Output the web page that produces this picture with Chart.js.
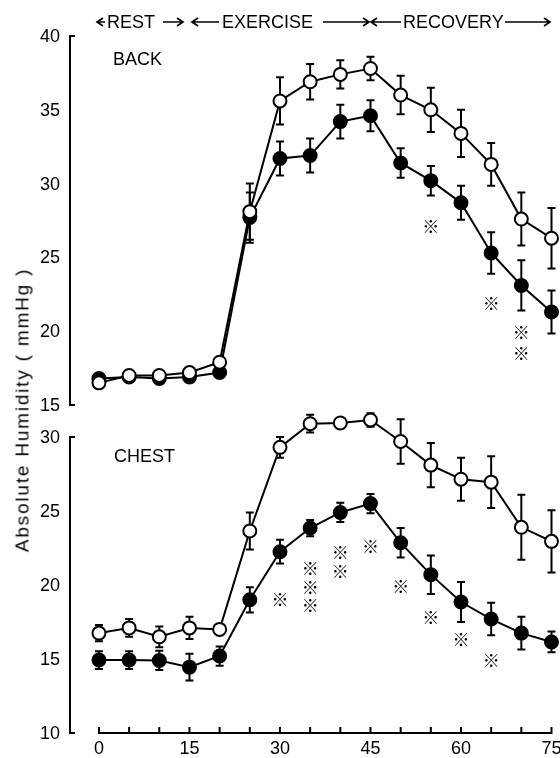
<!DOCTYPE html>
<html>
<head>
<meta charset="utf-8">
<script src="https://cdn.jsdelivr.net/npm/chart.js@4.4.1/dist/chart.umd.min.js"></script>
<style>
  body { margin: 0; background: #fff; }
  #page { position: relative; width: 560px; height: 758px; overflow: hidden; font-family: "Liberation Sans", Arial, sans-serif; color: #000; }
  .wrap { position: absolute; left: 0; width: 560px; }
  #wrapBack { top: 0; height: 420px; }
  #wrapChest { top: 395px; height: 363px; }
  .txt { position: absolute; font-size: 18px; line-height: 18px; white-space: nowrap; }
  #ytitle { position: absolute; left: 22px; top: 410px; transform: translate(-50%, -50%) rotate(-90deg);
            font-size: 19px; letter-spacing: 1.8px; white-space: nowrap; line-height: 19px; }
  #arrows { position: absolute; left: 0; top: 0; }
</style>
</head>
<body>
<div id="page">
  <div class="wrap" id="wrapBack"><canvas id="back"></canvas></div>
  <div class="wrap" id="wrapChest"><canvas id="chest"></canvas></div>

  <svg id="arrows" width="560" height="40"></svg>
  <div class="txt" style="left:107px;top:13px">REST</div>
  <div class="txt" style="left:222px;top:13px">EXERCISE</div>
  <div class="txt" style="left:403px;top:13px">RECOVERY</div>

  <div class="txt" style="left:113px;top:50px">BACK</div>
  <div class="txt" style="left:114px;top:447px">CHEST</div>
  <div id="ytitle">Absolute Humidity ( mmHg )</div>
</div>

<script>
// minutes from start of rest
const minutes = [0, 5, 10, 15, 20, 25, 30, 35, 40, 45, 50, 55, 60, 65, 70, 75];
const xTickLabels = [0, 15, 30, 45, 60, 75];
const backTicks = [15, 20, 25, 30, 35, 40];
const chestTicks = [10, 15, 20, 25, 30];

// BACK panel (mean and SE)
const backOpen      = [16.5, 17.0, 17.0, 17.2, 17.9, 28.1, 35.6, 36.9, 37.4, 37.8, 36.0, 35.0, 33.4, 31.3, 27.6, 26.3];
const backOpenErr   = [0.3, 0.3, 0.3, 0.3, 0.3, 1.9, 1.6, 1.2, 0.95, 0.8, 1.3, 1.5, 1.6, 1.45, 1.8, 2.05];
const backFilled    = [16.8, 16.9, 16.8, 16.9, 17.2, 27.7, 31.7, 31.9, 34.2, 34.6, 31.4, 30.2, 28.7, 25.3, 23.1, 21.3];
const backFilledErr = [0.3, 0.3, 0.3, 0.3, 0.3, 1.7, 1.15, 1.15, 1.15, 1.05, 1.0, 1.0, 1.15, 1.4, 1.7, 1.45];

// CHEST panel
const chestOpen      = [16.75, 17.1, 16.5, 17.1, 17.0, 23.65, 29.3, 30.9, 30.95, 31.15, 29.7, 28.1, 27.15, 26.95, 23.9, 22.95];
const chestOpenErr   = [0.55, 0.6, 0.7, 0.75, 0.3, 1.25, 0.7, 0.6, 0.2, 0.45, 1.5, 1.5, 1.45, 1.75, 2.2, 2.1];
const chestFilled    = [14.93, 14.93, 14.9, 14.45, 15.2, 19.0, 22.25, 23.85, 24.9, 25.5, 22.85, 20.7, 18.85, 17.7, 16.75, 16.15];
const chestFilledErr = [0.6, 0.6, 0.65, 0.9, 0.65, 0.85, 0.8, 0.55, 0.65, 0.65, 1.0, 1.3, 1.35, 1.1, 1.1, 0.7];

// significance marks (minute, humidity level where the mark sits)
const backSigX  = [55, 65, 70, 70];
const backSigY  = [27.1, 21.9, 19.9, 18.5];
const chestSigX = [30, 35, 35, 35, 40, 40, 45, 50, 55, 60, 65];
const chestSigY = [19.0, 21.1, 19.8, 18.6, 22.2, 20.9, 22.6, 19.9, 17.8, 16.3, 14.9];

const FONT = '"Liberation Sans", Arial, sans-serif';
const X_MIN = -4.8;

/* header arrows */
(function drawArrows() {
  const svg = document.getElementById('arrows');
  const y = 22;
  const arrows = [[105, 97], [163, 183], [219, 192], [323, 369], [401, 371], [505, 550]]; // [from, tip]
  let html = '';
  arrows.forEach(([a, b]) => {
    const d = b > a ? -1 : 1;
    html += `<path d="M${a} ${y} L${b} ${y} M${b + d * 6} ${y - 4} L${b} ${y} L${b + d * 6} ${y + 4}" stroke="#000" stroke-width="1.7" fill="none"/>`;
  });
  svg.innerHTML = html;
})();

/* plugins */
const errorBars = {
  id: 'errorBars',
  beforeDatasetsDraw(chart) {
    const { ctx, scales: { x, y } } = chart;
    ctx.save();
    ctx.strokeStyle = '#000';
    ctx.lineWidth = 2;
    chart.data.datasets.forEach(ds => {
      ds.data.forEach((p, i) => {
        const e = ds.errorBars[i];
        const px = x.getPixelForValue(p.x);
        const top = y.getPixelForValue(p.y + e);
        const bot = y.getPixelForValue(p.y - e);
        ctx.beginPath();
        ctx.moveTo(px, top); ctx.lineTo(px, bot);
        ctx.moveTo(px - 4, top); ctx.lineTo(px + 4, top);
        ctx.moveTo(px - 4, bot); ctx.lineTo(px + 4, bot);
        ctx.stroke();
      });
    });
    ctx.restore();
  }
};

const sigMarks = {
  id: 'sigMarks',
  afterDatasetsDraw(chart, args, opts) {
    const { ctx, scales: { x, y } } = chart;
    ctx.save();
    ctx.fillStyle = '#000';
    ctx.font = 'bold 17px "Noto Sans CJK JP", "DejaVu Sans", sans-serif';
    ctx.textAlign = 'center';
    ctx.textBaseline = 'middle';
    opts.xs.forEach((v, i) => {
      ctx.fillText('※', x.getPixelForValue(v), y.getPixelForValue(opts.ys[i]));
    });
    ctx.restore();
  }
};

// axes are drawn here so the plot area is fixed by the layout padding alone:
// y axis line over the labelled range with end ticks, labels, and the x axis with inward ticks
const axisMarks = {
  id: 'axisMarks',
  afterDraw(chart, args, opts) {
    const { ctx, chartArea: ca, scales: { x, y } } = chart;
    const yLo = y.getPixelForValue(opts.yTicks[0]);
    const yHi = y.getPixelForValue(opts.yTicks[opts.yTicks.length - 1]);
    ctx.save();
    ctx.strokeStyle = '#000';
    ctx.lineWidth = 2;
    ctx.beginPath();
    ctx.moveTo(ca.left, yLo + 1); ctx.lineTo(ca.left, yHi - 1);
    [yLo, yHi].forEach(py => { ctx.moveTo(ca.left - 1, py); ctx.lineTo(ca.left + 5, py); });
    if (opts.xAxis) {
      const py = ca.bottom;
      ctx.moveTo(x.getPixelForValue(minutes[0]) - 1, py);
      ctx.lineTo(x.getPixelForValue(minutes[minutes.length - 1]) + 1, py);
      minutes.forEach(m => {
        const px = x.getPixelForValue(m);
        ctx.moveTo(px, py); ctx.lineTo(px, py - 6);
      });
    }
    ctx.stroke();

    ctx.fillStyle = '#000';
    ctx.font = '18px ' + FONT;
    ctx.textAlign = 'right';
    ctx.textBaseline = 'middle';
    opts.yTicks.forEach(v => ctx.fillText(String(v), ca.left - 10, y.getPixelForValue(v) + 1));
    if (opts.xAxis) {
      ctx.textAlign = 'center';
      ctx.textBaseline = 'top';
      xTickLabels.forEach(v => ctx.fillText(String(v), x.getPixelForValue(v), ca.bottom + 7));
    }
    ctx.restore();
  }
};

function series(vals, errs, filled) {
  return {
    data: minutes.map((m, i) => ({ x: m, y: vals[i] })),
    errorBars: errs,
    borderColor: '#000',
    borderWidth: 2,
    pointRadius: 6.5,
    pointHoverRadius: 6.5,
    pointBorderWidth: 2,
    pointBorderColor: '#000',
    pointBackgroundColor: filled ? '#000' : '#fff',
    tension: 0,
    clip: false
  };
}

function makeChart(id, cfg) {
  return new Chart(document.getElementById(id), {
    type: 'line',
    data: { datasets: [series(cfg.open, cfg.openErr, false), series(cfg.filled, cfg.filledErr, true)] },
    options: {
      responsive: true,
      maintainAspectRatio: false,
      animation: false,
      events: [],
      layout: { padding: cfg.padding },
      scales: {
        x: { type: 'linear', min: X_MIN, max: 75, display: false },
        y: { min: cfg.ticks[0], max: cfg.yMax, display: false }
      },
      plugins: {
        legend: { display: false },
        tooltip: { enabled: false },
        sigMarks: { xs: cfg.sigX, ys: cfg.sigY },
        axisMarks: { xAxis: cfg.showX, yTicks: cfg.ticks }
      }
    },
    plugins: [errorBars, sigMarks, axisMarks]
  });
}

makeChart('back', {
  open: backOpen, openErr: backOpenErr, filled: backFilled, filledErr: backFilledErr,
  ticks: backTicks, yMax: 40, sigX: backSigX, sigY: backSigY, showX: false,
  padding: { top: 36, bottom: 15, left: 70, right: 6 }
});

// chest canvas starts at 395px; its plot area reaches up to 32 so points above 30 are drawn
makeChart('chest', {
  open: chestOpen, openErr: chestOpenErr, filled: chestFilled, filledErr: chestFilledErr,
  ticks: chestTicks, yMax: 32, sigX: chestSigX, sigY: chestSigY, showX: true,
  padding: { top: 12.4, bottom: 25, left: 70, right: 6 }
});
</script>
</body>
</html>
